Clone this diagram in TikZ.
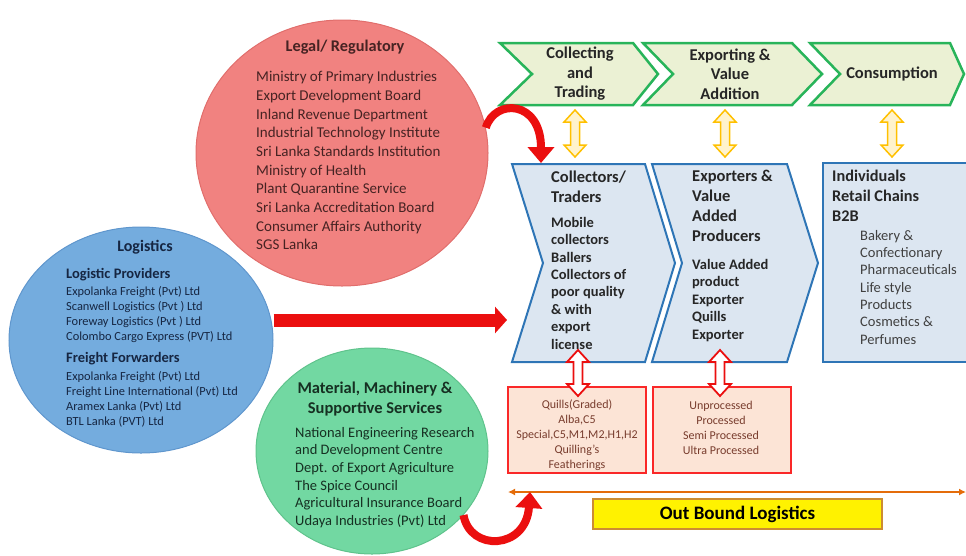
\documentclass[tikz,border=0pt]{standalone}
\usepackage{fontspec}
\setmainfont{Carlito}
\usetikzlibrary{calc,arrows.meta,shapes.geometric}
\definecolor{legalred}{RGB}{241,130,128}
\definecolor{legaledge}{RGB}{225,110,108}
\definecolor{legaltext}{RGB}{70,35,35}
\definecolor{logiblue}{RGB}{116,172,222}
\definecolor{logiedge}{RGB}{95,150,205}
\definecolor{logitext}{RGB}{22,38,66}
\definecolor{suppgreen}{RGB}{114,216,162}
\definecolor{suppedge}{RGB}{95,195,140}
\definecolor{supptext}{RGB}{22,48,34}
\definecolor{chevgreen}{RGB}{40,180,90}
\definecolor{chevfill}{RGB}{235,241,212}
\definecolor{midblue}{RGB}{46,117,182}
\definecolor{midfill}{RGB}{220,230,241}
\definecolor{arrowyellow}{RGB}{255,192,0}
\definecolor{yellowfill}{RGB}{255,243,205}
\definecolor{arrowred}{RGB}{235,15,15}
\definecolor{boxred}{RGB}{250,40,40}
\definecolor{boxfill}{RGB}{252,228,214}
\definecolor{gradetext}{RGB}{120,60,45}
\definecolor{lineorange}{RGB}{228,108,10}
\definecolor{obborder}{RGB}{205,140,50}
\def\chevron[#1](#2,#3)(#4,#5)(#6,#7){\draw[#1] (#2,#3) -- ++(#4,0) -- ++(#7,{#5/2}) -- ++(-#7,{#5/2}) -- ++(-#4,0) -- ++(#6,{-#5/2}) -- cycle;}
\def\hollowarrow[#1](#2)(#3){\draw[#1] (#2) -- ($(#2)+(11,12)$) -- ($(#2)+(4.5,12)$) -- ($(#3)+(4.5,-12)$) -- ($(#3)+(11,-12)$) -- (#3) -- ($(#3)+(-11,-12)$) -- ($(#3)+(-4.5,-12)$) -- ($(#2)+(-4.5,12)$) -- ($(#2)+(-11,12)$) -- cycle;}

\begin{document}
\begin{tikzpicture}[x=1pt, y=-1pt,
	blob/.style={ellipse, inner sep=0, line width=1pt},
	headtext/.style={inner sep=0, font=\fontsize{16.3}{20}\selectfont\bfseries},
	listtext/.style={anchor=north west, align=left, inner sep=0},
	topchev/.style={draw=chevgreen, fill=chevfill, line width=2.5pt},
	midchev/.style={draw=midblue, fill=midfill, line width=2pt},
	yarrow/.style={draw=arrowyellow, fill=yellowfill, line width=1.5pt},
	rarrow/.style={draw=arrowred, fill=white, line width=1.8pt},
	gradebox/.style={draw=boxred, fill=boxfill, line width=2pt, minimum width=138pt, minimum height=86pt},
	gradetext/.style={align=center, inner sep=0, text=gradetext, font=\fontsize{12}{15}\selectfont},
	redcurve/.style={draw=arrowred, line width=8pt, -{Triangle[length=16pt,width=26pt]}},
	redbar/.style={draw=arrowred, line width=13pt, -{Triangle[length=12pt,width=26pt]}},
	obline/.style={draw=lineorange, line width=2pt, {Latex[length=7pt,width=7pt]}-{Latex[length=7pt,width=7pt]}},
	obbox/.style={draw=obborder, fill=yellow, line width=1.2pt, minimum width=289pt, minimum height=30pt, inner sep=0, font=\fontsize{19}{22}\selectfont\bfseries}
	]
	%%%%% START %%%%%
	
	\useasboundingbox (0,0) rectangle (966,555);
	
	% legal / regulatory
	\node[blob, fill=legalred, draw=legaledge, minimum width=292pt, minimum height=266pt] (legal) at (342,153) {};
	\node[headtext, text=legaltext] (legalhead) at (345,47) {Legal/ Regulatory};
	\node[listtext, text=legaltext, font=\fontsize{15}{18.7}\selectfont] (legallist) at (256,71) {Ministry of Primary Industries\\Export Development Board\\Inland Revenue Department\\Industrial Technology Institute\\Sri Lanka Standards Institution\\Ministry of Health\\Plant Quarantine Service\\Sri Lanka Accreditation Board\\Consumer Affairs Authority\\SGS Lanka};
	
	% logistics
	\node[blob, fill=logiblue, draw=logiedge, minimum width=264pt, minimum height=226pt] (logi) at (141,340) {};
	\node[headtext, text=logitext, font=\fontsize{16}{20}\selectfont\bfseries] (logihead) at (145,247) {Logistics};
	\node[headtext, anchor=west, text=logitext, font=\fontsize{14.5}{17}\selectfont\bfseries] (provhead) at (66,275) {Logistic Providers};
	\node[listtext, text=logitext, font=\fontsize{12.4}{15}\selectfont] (provlist) at (66,286) {Expolanka Freight (Pvt) Ltd\\Scanwell Logistics (Pvt ) Ltd\\Foreway Logistics (Pvt ) Ltd\\Colombo Cargo Express (PVT) Ltd};
	\node[headtext, anchor=west, text=logitext, font=\fontsize{14.5}{17}\selectfont\bfseries] (fwdhead) at (66,359) {Freight Forwarders};
	\node[listtext, text=logitext, font=\fontsize{12.4}{15}\selectfont] (fwdlist) at (66,371) {Expolanka Freight (Pvt) Ltd\\Freight Line International (Pvt) Ltd\\Aramex Lanka (Pvt) Ltd\\BTL Lanka (PVT) Ltd};
	
	% material, machinery
	\node[blob, fill=suppgreen, draw=suppedge, minimum width=232pt, minimum height=206pt] (support) at (372,451) {};
	\node[headtext, align=center, text=supptext, font=\fontsize{16.5}{20}\selectfont\bfseries] (supphead) at (375,399) {Material, Machinery \&\\Supportive Services};
	\node[listtext, text=supptext, font=\fontsize{14.5}{17.6}\selectfont] (supplist) at (295,427) {National Engineering Research\\and Development Centre\\Dept. of Export Agriculture\\The Spice Council\\Agricultural Insurance Board\\Udaya Industries (Pvt) Ltd};
	
	% stages
	\chevron[topchev](500,43)(133,62)(32,25)
	\chevron[topchev](643,43)(149,62)(30,30)
	\chevron[topchev](810,43)(140,62)(30,14)
	\node[headtext, align=center, text=black!85, font=\fontsize{16.5}{19.5}\selectfont\bfseries] (collect) at (580,74) {Collecting\\and\\Trading};
	\node[headtext, align=center, text=black!85, font=\fontsize{16.5}{19.5}\selectfont\bfseries] (export) at (730,74) {Exporting \&\\Value\\Addition};
	\node[headtext, text=black!85, font=\fontsize{16.5}{19.5}\selectfont\bfseries] (consume) at (892,74) {Consumption};
	
	% actors
	\chevron[midchev](512,164)(133,198)(31,30)
	\chevron[midchev](652,164)(135,198)(30,31)
	\draw[midchev] (823,163) rectangle (980,362);
	\node[listtext, text=black!85, font=\fontsize{16.5}{20}\selectfont\bfseries] (tradehead) at (551,171) {Collectors/\\Traders};
	\node[listtext, text=black!85, font=\fontsize{14.5}{17.4}\selectfont\bfseries] (tradelist) at (551,217) {Mobile\\collectors\\Ballers\\Collectors of\\poor quality\\\& with\\export\\license};
	\node[listtext, text=black!85, font=\fontsize{16.5}{20}\selectfont\bfseries] (exphead) at (692,170) {Exporters \&\\Value\\Added\\Producers};
	\node[listtext, text=black!85, font=\fontsize{14.5}{17.5}\selectfont\bfseries] (explist) at (692,259) {Value Added\\product\\Exporter\\Quills\\Exporter};
	\node[listtext, text=black!85, font=\fontsize{16.3}{20}\selectfont\bfseries] (conshead) at (832,170) {Individuals\\Retail Chains\\B2B};
	\node[listtext, text=black!75, font=\fontsize{14.5}{17.3}\selectfont] (conslist) at (860,230) {Bakery \&\\Confectionary\\Pharmaceuticals\\Life style\\Products\\Cosmetics \&\\Perfumes};
	
	% products
	\node[gradebox] (grades) at (577,430) {};
	\node[gradebox] (process) at (722,430) {};
	\node[gradetext] (gradelist) at (577,435) {Quills(Graded)\\Alba,C5\\Special,C5,M1,M2,H1,H2\\Quilling's\\Featherings};
	\node[gradetext] (processlist) at (721,428) {Unprocessed\\Processed\\Semi Processed\\Ultra Processed};
	
	\coordinate (yt1) at (575,110); \coordinate (yb1) at (575,157);
	\coordinate (yt2) at (725,110); \coordinate (yb2) at (725,157);
	\coordinate (yt3) at (892,110); \coordinate (yb3) at (892,157);
	\hollowarrow[yarrow](yt1)(yb1)
	\hollowarrow[yarrow](yt2)(yb2)
	\hollowarrow[yarrow](yt3)(yb3)
	
	\coordinate (rt1) at (578,350); \coordinate (rb1) at (578,396);
	\coordinate (rt2) at (720,350); \coordinate (rb2) at (720,396);
	\hollowarrow[rarrow](rt1)(rb1)
	\hollowarrow[rarrow](rt2)(rb2)
	
	% out bound
	\coordinate (obl) at (508,492);
	\coordinate (obr) at (966,492);
	\draw[obline] (obl) -- (obr);
	\node[obbox] (outbound) at (737.5,514) {Out Bound Logistics};
	
	% red arrows
	\coordinate (tradein) at (507,320);
	\coordinate (tradetop) at (541,163);
	\coordinate (obhook) at (530,492);
	\draw[redbar] (logi.east |- tradein) -- (tradein);
	\draw[redcurve] (legal.10) .. controls (495,98) and (541,100) .. (tradetop);
	\draw[redcurve] (support.-35) .. controls (470,552) and (526,550) .. (obhook);
	
	%%%%% END %%%%%
\end{tikzpicture}
\end{document}
